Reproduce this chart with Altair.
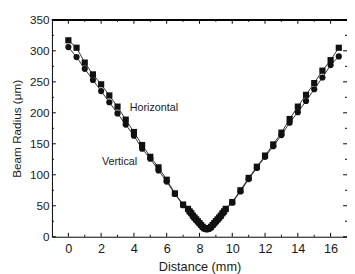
import altair as alt
import pandas as pd

# Distances (mm)
d_left = [0.0, 0.5, 1.0, 1.5, 2.0, 2.5, 3.0, 3.5, 4.0, 4.5, 5.0, 5.5, 6.0, 6.5, 7.0]
d_waist = [7.3, 7.4, 7.5, 7.6, 7.7, 7.8, 7.9, 8.0, 8.1, 8.2, 8.3, 8.4,
           8.5, 8.6, 8.7, 8.8, 8.9, 9.0, 9.1, 9.2, 9.3, 9.4, 9.5, 9.6]
d_right = [10.0, 10.5, 11.0, 11.5, 12.0, 12.5, 13.0, 13.5, 14.0, 14.5, 15.0, 15.5, 16.0, 16.5]

# Horizontal beam radius (um)
h_left = [317, 305, 281, 262, 246, 228, 210, 189, 169, 148, 129, 112, 92, 70, 52]
h_waist = [45, 41, 38, 34, 31, 28, 25, 22, 19, 16, 14, 13,
           13, 14, 16, 19, 22, 25, 28, 31, 34, 38, 41, 45]
h_right = [56, 75, 95, 113, 131, 149, 168, 190, 210, 229, 248, 268, 285, 305]

# Vertical beam radius (um)
v_left = [306, 290, 271, 253, 235, 217, 199, 181, 163, 142, 126, 107, 89, 69, 51]
v_waist = [44, 40, 37, 33, 30, 27, 24, 21, 18, 15, 13, 12,
           12, 13, 15, 18, 21, 24, 27, 30, 33, 37, 40, 44]
v_right = [55, 73, 93, 111, 129, 146, 164, 184, 201, 219, 238, 257, 277, 291]

series_names = ["Horizontal", "Vertical"]
x_major = [0, 2, 4, 6, 8, 10, 12, 14, 16]
x_minor = [1, 3, 5, 7, 9, 11, 13, 15]
y_major = [0, 50, 100, 150, 200, 250, 300, 350]
y_minor = [25, 75, 125, 175, 225, 275, 325]

ann_labels = ["Horizontal", "Vertical"]
ann_d = [3.75, 2.05]
ann_v = [208, 121]

dists = d_left + d_waist + d_right
rows = []
for dd, vv in zip(dists, h_left + h_waist + h_right):
    rows.append({"d": dd, "v": vv, "s": "Horizontal"})
for dd, vv in zip(dists, v_left + v_waist + v_right):
    rows.append({"d": dd, "v": vv, "s": "Vertical"})
df = pd.DataFrame(rows)

W, H = 302, 222
FONT = "Liberation Sans"
TXT = "#1a1a1a"

x_axis = alt.Axis(values=x_major, ticks=False, grid=False, title="Distance (mm)",
                  labelFont=FONT, titleFont=FONT, labelFontSize=13, titleFontSize=13,
                  titleFontWeight="normal", labelColor=TXT, titleColor=TXT,
                  domainColor="#000", domainWidth=1, labelPadding=6, titlePadding=6,
                  labelFlush=False, labelOverlap=False, labelBound=False)
y_axis = alt.Axis(values=y_major, ticks=False, grid=False, title="Beam Radius (μm)",
                  labelFont=FONT, titleFont=FONT, labelFontSize=12, titleFontSize=12,
                  titleFontWeight="normal", labelColor=TXT, titleColor=TXT,
                  domainColor="#000", domainWidth=1, labelPadding=3, titlePadding=6,
                  labelFlush=False, labelOverlap=False, labelBound=False)
x_scale = alt.Scale(domain=[-1, 17], nice=False, zero=False)
y_scale = alt.Scale(domain=[0, 350], nice=False, zero=False)


def X():
    return alt.X("d:Q", scale=x_scale, axis=x_axis)


def Y():
    return alt.Y("v:Q", scale=y_scale, axis=y_axis)


base = alt.Chart(df)
lines = base.mark_line(color="#000", strokeWidth=0.8).encode(
    x=X(), y=Y(), detail="s:N")
points = base.mark_point(filled=True, color="#111", opacity=1, size=40).encode(
    x=X(), y=Y(),
    shape=alt.Shape("s:N", scale=alt.Scale(domain=series_names, range=["square", "circle"]),
                    legend=None))

ann = alt.Chart(pd.DataFrame({"d": ann_d, "v": ann_v, "label": ann_labels})).mark_text(
    align="left", baseline="middle", font=FONT, fontSize=11, color=TXT
).encode(x=X(), y=Y(), text="label:N")

xmaj = pd.DataFrame({"d": x_major})
xmin = pd.DataFrame({"d": x_minor})
ymaj = pd.DataFrame({"v": y_major})
ymin = pd.DataFrame({"v": y_minor})

tick_layers = [
    alt.Chart(xmaj).mark_rule(color="#000").encode(x=X(), y=alt.value(H), y2=alt.value(H - 4)),
    alt.Chart(xmin).mark_rule(color="#000").encode(x=X(), y=alt.value(H), y2=alt.value(H - 2)),
    alt.Chart(xmaj).mark_rule(color="#000").encode(x=X(), y=alt.value(0), y2=alt.value(4)),
    alt.Chart(xmin).mark_rule(color="#000").encode(x=X(), y=alt.value(0), y2=alt.value(2)),
    alt.Chart(ymaj).mark_rule(color="#000").encode(y=Y(), x=alt.value(0), x2=alt.value(4)),
    alt.Chart(ymin).mark_rule(color="#000").encode(y=Y(), x=alt.value(0), x2=alt.value(2)),
    alt.Chart(ymaj).mark_rule(color="#000").encode(y=Y(), x=alt.value(W), x2=alt.value(W - 4)),
    alt.Chart(ymin).mark_rule(color="#000").encode(y=Y(), x=alt.value(W), x2=alt.value(W - 2)),
]
top_line = alt.Chart(xmaj).mark_rule(color="#000").encode(
    x=alt.value(0), x2=alt.value(W), y=alt.value(0))

chart = alt.layer(lines, points, ann, top_line, *tick_layers).properties(
    width=W, height=H,
    autosize=alt.AutoSizeParams(type="none"),
    padding={"left": 45, "top": 9, "right": 0, "bottom": 35},
).configure_view(stroke=None)

chart.save("out.html", embed_options={"renderer": "svg", "actions": False})
